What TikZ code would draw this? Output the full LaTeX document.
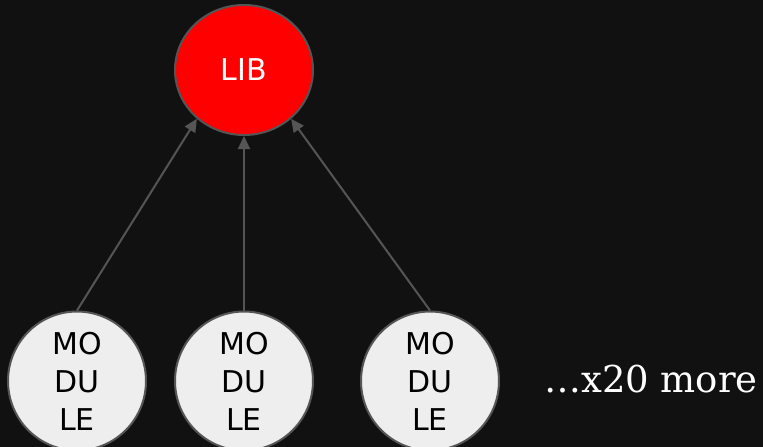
\documentclass[tikz,border=0pt]{standalone}
\usepackage{fontspec}
\setmainfont{DejaVu Sans}
\newfontfamily\notefont{DejaVu Serif}
\usetikzlibrary{arrows.meta,shapes.geometric}
\definecolor{bg}{HTML}{111111}
\definecolor{edgegray}{HTML}{555555}
\definecolor{modfill}{HTML}{EEEEEE}
\tikzset{
  blob/.style={ellipse, draw=edgegray, line width=2pt, inner sep=0pt,
    minimum width=138pt, align=center, font=\fontsize{30}{38}\selectfont},
  libnode/.style={blob, fill=red, text=white, minimum height=130pt},
  modnode/.style={blob, fill=modfill, text=black, minimum height=128pt},
  dep/.style={draw=edgegray, line width=2pt, -{Triangle[length=13pt,width=12pt]}},
}
\begin{document}
\begin{tikzpicture}[x=1pt,y=-1pt]
  \fill[bg] (0,0) rectangle (763,447);
  \useasboundingbox (0,0) rectangle (763,447);
  \node[libnode] (lib) at (244,70) {LIB};
  \node[modnode] (m1) at (77,381) {MO\\DU\\LE};
  \node[modnode] (m2) at (244,381) {MO\\DU\\LE};
  \node[modnode] (m3) at (430,381) {MO\\DU\\LE};
  \node[text=white, font=\notefont\fontsize{37}{44}\selectfont, anchor=west, inner sep=0pt] (more) at (544,379) {…x20 more};
  \draw[dep] (m1.north) -- (lib.226);
  \draw[dep] (m2.north) -- (lib.south);
  \draw[dep] (m3.north) -- (lib.314);
\end{tikzpicture}
\end{document}
